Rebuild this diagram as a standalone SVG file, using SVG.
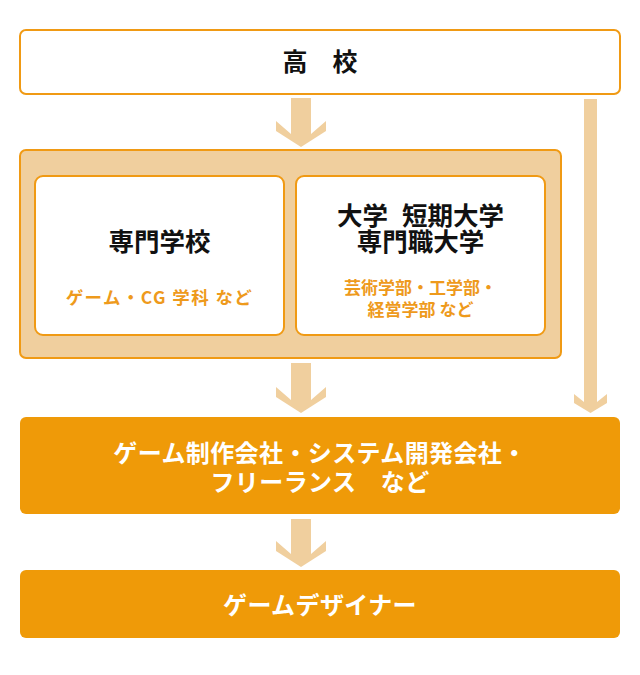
<svg xmlns="http://www.w3.org/2000/svg" width="640" height="675" viewBox="0 0 640 675">
<style>
.t{font-family:"Noto Sans CJK JP","Noto Sans",sans-serif;font-weight:bold;text-anchor:middle}
.blk{fill:#111111;font-size:25.5px}
.sub{fill:#EE9A1C;font-size:17px}
.wht{fill:#FFFFFF;font-size:24px;letter-spacing:0.4px}
.box{fill:#FFFFFF;stroke:#F09A14;stroke-width:2}
.frame{fill:#F0CF9E;stroke:#F09A14;stroke-width:2}
.solid{fill:#EF9A08}
.arr{fill:#F0CF9E}
</style>
<rect width="640" height="675" fill="#FFFFFF"/>
<g id="connectors">
<path class="arr" d="M291,98 H311 V134 L326,121 V131 L301,147 L276,131 V121 L291,134 Z"/>
<path class="arr" d="M291,363 H311 V400 L326,387 V397 L301,413 L276,397 V387 L291,400 Z"/>
<path class="arr" d="M291,519 H311 V554 L326,541 V551 L301,567 L276,551 V541 L291,554 Z"/>
<path class="arr" d="M584,99 H597 V402 L607,394 V403 L590.5,413 L574,403 V394 L584,402 Z"/>
</g>
<g id="koukou">
<rect class="box" x="20" y="30" width="600" height="64" rx="6"/>
<text class="t blk" x="320" y="71" style="font-size:25px">高　校</text>
</g>
<g id="group-schools">
<rect class="frame" x="20" y="150" width="541" height="208" rx="6"/>
</g>
<g id="senmon">
<rect class="box" x="35" y="176" width="249" height="159" rx="8"/>
<text class="t blk" x="159.5" y="251">専門学校</text>
<text class="t sub" x="159.5" y="304" style="font-size:17.5px;letter-spacing:1.4px">ゲーム・CG 学科 など</text>
</g>
<g id="daigaku">
<rect class="box" x="296" y="176" width="249" height="159" rx="8"/>
<text class="t blk" x="420.5" y="224.5" style="word-spacing:8px">大学 短期大学</text>
<text class="t blk" x="420.5" y="250.5">専門職大学</text>
<text class="t sub" x="420.5" y="294">芸術学部・工学部・</text>
<text class="t sub" x="420.5" y="316">経営学部 など</text>
</g>
<g id="company">
<rect class="solid" x="20" y="417" width="600" height="97" rx="6"/>
<text class="t wht" x="320" y="462">ゲーム制作会社・システム開発会社・</text>
<text class="t wht" x="320" y="491">フリーランス　など</text>
</g>
<g id="designer">
<rect class="solid" x="20" y="570" width="600" height="68" rx="6"/>
<text class="t wht" x="320" y="614">ゲームデザイナー</text>
</g>
</svg>
